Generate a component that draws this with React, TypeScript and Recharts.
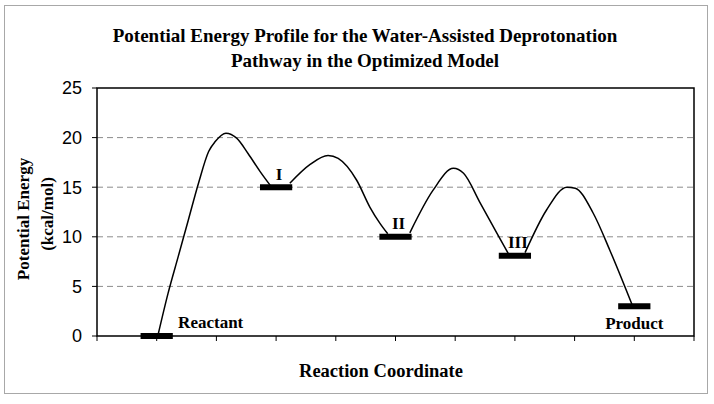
import { LineChart, Line, XAxis, YAxis, CartesianGrid, ReferenceArea, ReferenceDot } from 'recharts';

// Smoothed pathway segments between the stationary levels (reaction coordinate, kcal/mol)
const rise1 = [
  { x: 1.02, y: 0.05 }, { x: 1.19, y: 4.3 }, { x: 1.36, y: 8.0 }, { x: 1.53, y: 11.7 },
  { x: 1.7, y: 15.4 }, { x: 1.87, y: 18.6 }, { x: 1.98, y: 19.6 }, { x: 2.16, y: 20.45 },
  { x: 2.34, y: 19.95 }, { x: 2.53, y: 18.4 }, { x: 2.73, y: 16.6 }, { x: 2.9, y: 15.2 },
];
const rise2 = [
  { x: 3.23, y: 15.4 }, { x: 3.57, y: 17.3 }, { x: 3.87, y: 18.2 }, { x: 4.04, y: 17.9 },
  { x: 4.35, y: 15.7 }, { x: 4.57, y: 13.0 }, { x: 4.74, y: 11.35 }, { x: 4.87, y: 10.3 },
];
const rise3 = [
  { x: 5.24, y: 10.4 }, { x: 5.63, y: 14.7 }, { x: 5.97, y: 16.9 }, { x: 6.14, y: 16.4 },
  { x: 6.42, y: 13.4 }, { x: 6.7, y: 10.35 }, { x: 6.89, y: 8.3 },
];
const rise4 = [
  { x: 7.17, y: 8.4 }, { x: 7.53, y: 12.7 }, { x: 7.87, y: 15.0 }, { x: 8.01, y: 14.9 },
  { x: 8.31, y: 12.4 }, { x: 8.59, y: 8.65 }, { x: 8.96, y: 3.2 },
];
const segments = [rise1, rise2, rise3, rise4];

const levelNames = ['Reactant', 'I', 'II', 'III', 'Product'];
const levelCoords = [1, 3, 5, 7, 9];
const levelEnergies = [0, 15, 10, 8.1, 3];

// label offsets in px from the level bar centre
const labelOffsets = [
  { dx: 54, dy: -8 },
  { dx: 3, dy: -7 },
  { dx: 3, dy: -8 },
  { dx: 3, dy: -8 },
  { dx: 0, dy: 23 },
];

const yTicks = [0, 5, 10, 15, 20, 25];
const xTicks = [0, 1, 2, 3, 4, 5, 6, 7, 8, 9, 10];

const HALF_BAR = 0.27;
const serif = '"Liberation Serif", "Times New Roman", serif';

const App = () => {
  return (
    <div style={{ position: 'absolute', left: 0, top: 0, width: 714, height: 404, background: '#fff' }}>
      <div
        style={{
          position: 'absolute', left: 4, top: 5, width: 702, height: 387,
          border: '1px solid #a8a8a8',
        }}
      />
      <div
        style={{
          position: 'absolute', left: 0, top: 23, width: 730, textAlign: 'center',
          fontFamily: serif, fontWeight: 'bold', fontSize: 19, lineHeight: '25px', color: '#000',
        }}
      >
        Potential Energy Profile for the Water-Assisted Deprotonation
        <br />
        Pathway in the Optimized Model
      </div>
      <LineChart
        width={714}
        height={404}
        margin={{ top: 88, right: 20, bottom: 0, left: 0 }}
        style={{ position: 'absolute', left: 0, top: 0 }}
      >
        <CartesianGrid vertical={false} stroke="#8c8c8c" strokeDasharray="6 4" horizontalValues={[5, 10, 15, 20]} />
        <XAxis
          type="number"
          dataKey="x"
          domain={[0, 10]}
          ticks={xTicks}
          tickFormatter={() => ''}
          tickSize={5}
          axisLine={false}
          tickLine={{ stroke: '#000' }}
          height={68}
          label={{
            content: () => (
              <text x={381} y={377} textAnchor="middle" fontFamily={serif} fontWeight="bold" fontSize={18.5} fill="#000">
                Reaction Coordinate
              </text>
            ),
          }}
        />
        <YAxis
          type="number"
          domain={[0, 25]}
          ticks={yTicks}
          width={97}
          tickSize={5}
          tickMargin={10}
          axisLine={false}
          tickLine={{ stroke: '#000' }}
          tick={{ fill: '#000', fontSize: 18, fontFamily: '"Liberation Sans", Arial, sans-serif' }}
          label={{
            content: () => (
              <g fontFamily={serif} fontWeight="bold" fontSize={17} fill="#000">
                <text x={29} y={219} textAnchor="middle" transform="rotate(-90 29 219)">Potential Energy</text>
                <text x={53} y={214} textAnchor="middle" transform="rotate(-90 53 214)">(kcal/mol)</text>
              </g>
            ),
          }}
        />
        <ReferenceArea x1={0} x2={10} y1={0} y2={25} fill="none" stroke="#000" strokeWidth={1.5} />
        {segments.map((seg, i) => (
          <Line
            key={`seg-${i}`}
            data={seg}
            dataKey="y"
            type="monotone"
            stroke="#000"
            strokeWidth={1.5}
            dot={false}
            isAnimationActive={false}
          />
        ))}
        {levelNames.map((name, i) => (
          <Line
            key={`lvl-${name}`}
            data={[
              { x: levelCoords[i] - HALF_BAR, y: levelEnergies[i] },
              { x: levelCoords[i] + HALF_BAR, y: levelEnergies[i] },
            ]}
            dataKey="y"
            type="linear"
            stroke="#000"
            strokeWidth={6}
            dot={false}
            isAnimationActive={false}
          />
        ))}
        {levelNames.map((name, i) => (
          <ReferenceDot
            key={`lbl-${name}`}
            x={levelCoords[i]}
            y={levelEnergies[i]}
            r={0}
            stroke="none"
            fill="none"
            label={{
              content: (props: any) => {
                const vb = props.viewBox || {};
                const cx = (vb.x ?? 0) + (vb.width ?? 0) / 2;
                const cy = (vb.y ?? 0) + (vb.height ?? 0) / 2;
                return (
                  <text
                    x={cx + labelOffsets[i].dx}
                    y={cy + labelOffsets[i].dy}
                    textAnchor="middle"
                    fontFamily={serif}
                    fontWeight="bold"
                    fontSize={17}
                    fill="#000"
                  >
                    {name}
                  </text>
                );
              },
            }}
          />
        ))}
      </LineChart>
    </div>
  );
};

export default App;
